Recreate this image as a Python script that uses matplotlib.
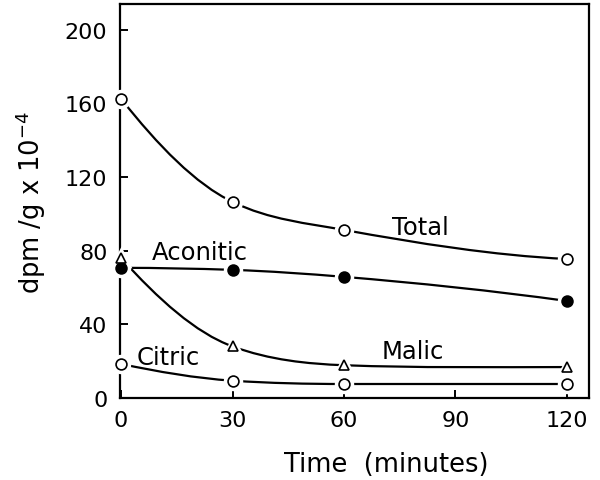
import matplotlib
matplotlib.use('Agg')
import matplotlib.pyplot as plt
import numpy as np
from matplotlib.path import Path
from matplotlib.patches import PathPatch

# data (dpm/g x 10^-4 vs time in minutes)
time = [0, 30, 60, 120]
total = [162.5, 106.5, 91.3, 75.5]
aconitic = [70.7, 69.6, 65.8, 52.7]
malic = [76.0, 28.0, 17.8, 16.8]
citric = [18.5, 9.4, 7.6, 7.6]

x_ticks = [0, 30, 60, 90, 120]
y_ticks = [0, 40, 80, 120, 160, 200]

plt.rcParams['font.family'] = ['DejaVu Sans']


def smooth_path(x, y):
    # hand-drawn style curve: cubic Bezier segments through the points
    x = np.asarray(x, float)
    y = np.asarray(y, float)
    h = np.diff(x)
    d = np.diff(y) / h
    n = len(x)
    m = np.zeros(n)
    for k in range(1, n - 1):
        if d[k - 1] * d[k] > 0:
            m[k] = np.sign(d[k]) * np.sqrt(d[k - 1] * d[k])
    m[0] = ((2 * h[0] + h[1]) * d[0] - h[0] * d[1]) / (h[0] + h[1])
    m[-1] = ((2 * h[-1] + h[-2]) * d[-1] - h[-1] * d[-2]) / (h[-1] + h[-2])
    if m[0] * d[0] <= 0:
        m[0] = 0
    if m[-1] * d[-1] <= 0:
        m[-1] = 0
    verts = [(x[0], y[0])]
    codes = [Path.MOVETO]
    for k in range(n - 1):
        verts += [(x[k] + h[k] / 3, y[k] + m[k] * h[k] / 3),
                  (x[k + 1] - h[k] / 3, y[k + 1] - m[k + 1] * h[k] / 3),
                  (x[k + 1], y[k + 1])]
        codes += [Path.CURVE4] * 3
    return Path(verts, codes)


fig = plt.figure(figsize=(6.0, 4.81), dpi=100)
ax = fig.add_axes([0.2, 0.1705, 0.782, 0.819])

series = [
    (total, 'o', 'white'),
    (aconitic, 'o', 'black'),
    (malic, '^', 'white'),
    (citric, 'o', 'white'),
]
for vals, mk, fc in series:
    ax.add_patch(PathPatch(smooth_path(time, vals), fill=False, lw=1.6,
                           edgecolor='black', zorder=2))
    # white halo so the curve stops short of each symbol
    ax.plot(time, vals, linestyle='none', marker=mk, ms=11.5, mfc='white',
            mec='white', mew=2.5, zorder=3, clip_on=False)
    ax.plot(time, vals, linestyle='none', marker=mk, ms=7.8, mfc=fc,
            mec='black', mew=1.2, zorder=4, clip_on=False)

lab_fs = 17.5
ax.text(73, 93, 'Total', fontsize=lab_fs, va='center', ha='left')
ax.text(8.3, 79.5, 'Aconitic', fontsize=lab_fs, va='center', ha='left')
ax.text(70, 25.5, 'Malic', fontsize=lab_fs, va='center', ha='left')
ax.text(4.3, 22.5, 'Citric', fontsize=lab_fs, va='center', ha='left')

ax.set_xlim(-0.3, 126)
ax.set_ylim(0, 214)
ax.set_xticks(x_ticks)
ax.set_yticks(y_ticks)
ax.tick_params(direction='in', length=6, width=1.4, labelsize=16, pad=9)
for s in ax.spines.values():
    s.set_linewidth(1.6)

ax.set_xlabel('Time  (minutes)', fontsize=18.5, labelpad=15, x=0.567)
ax.set_ylabel('dpm /g x 10$^{-4}$', fontsize=18.5, labelpad=12)

fig.savefig('out.png', dpi=100)
